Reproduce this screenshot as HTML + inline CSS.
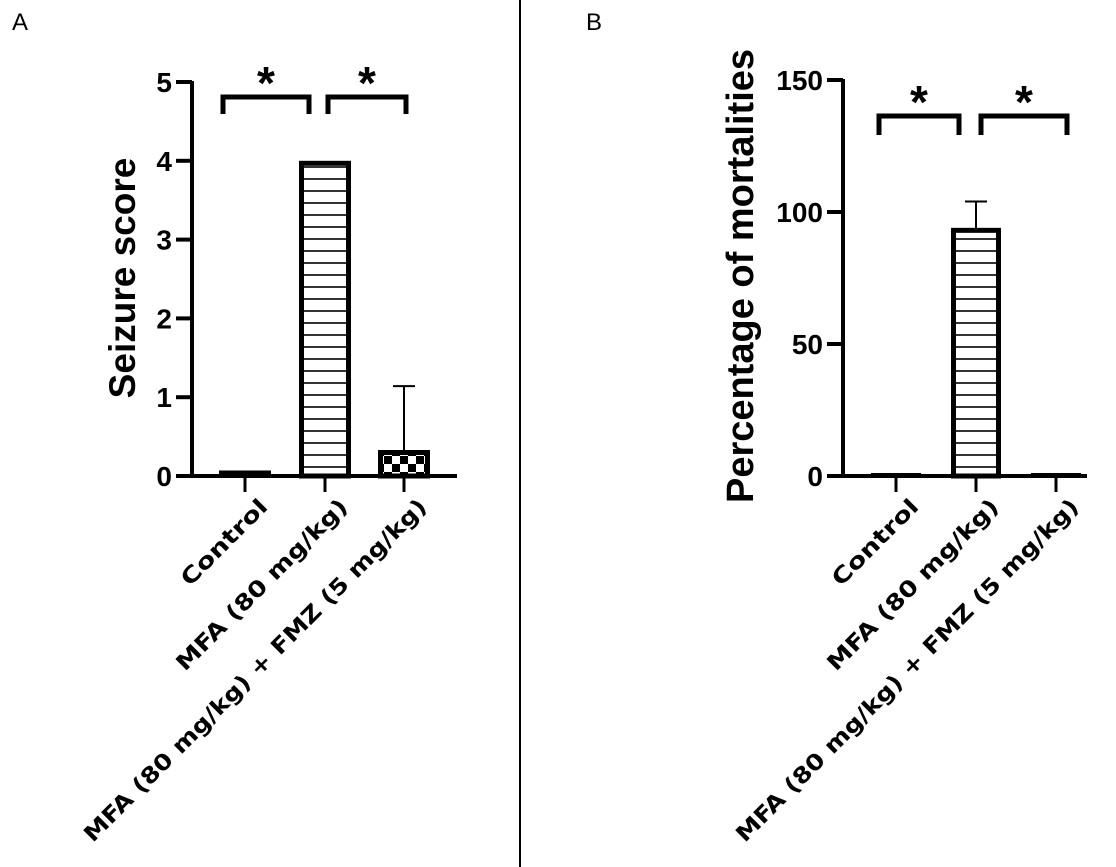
<!DOCTYPE html>
<html><head><meta charset="utf-8"><style>
html,body{margin:0;padding:0;background:#fff;}
svg{display:block;}
text{fill:#000;}
.dv{font-family:"DejaVu Sans","Liberation Sans",sans-serif;}
.lib{font-family:"Liberation Sans",sans-serif;}
</style></head><body>
<svg id="fig" width="1116" height="867" viewBox="0 0 1116 867" xmlns="http://www.w3.org/2000/svg">
<defs>
<pattern id="hatch" width="10" height="12" patternUnits="userSpaceOnUse" y="0">
<rect width="10" height="12" fill="#fff"/><line x1="0" y1="11" x2="10" y2="11" stroke="#000" stroke-width="1.6"/>
</pattern>
<pattern id="checker" width="16" height="16" patternUnits="userSpaceOnUse">
<rect width="16" height="16" fill="#000"/><rect width="8" height="8" fill="#fff"/><rect x="8" y="8" width="8" height="8" fill="#fff"/>
</pattern>
</defs>
<line x1="520" y1="0" x2="520" y2="867" stroke="#000" stroke-width="2"/>
<text class="lib" x="12" y="30" font-size="24">A</text>
<text class="lib" x="586" y="30" font-size="24">B</text>
<g id="pa"></g><g id="pb"></g>
</svg>
<script>
const categories = ["Control", "MFA (80 mg/kg)", "MFA  (80 mg/kg) + FMZ (5 mg/kg)"];
const seizureValues = [0.07, 4, 0.33];
const seizureErrors = [0, 0, 0.81];
const seizureTicks = [0, 1, 2, 3, 4, 5];
const mortalityValues = [0.3, 94, 0.3];
const mortalityErrors = [0, 10, 0];
const mortalityTicks = [0, 50, 100, 150];
const labelLengths = [112, 232, 474];

const NS = "http://www.w3.org/2000/svg";
function mk(parent, tag, attrs, txt){
  const e = document.createElementNS(NS, tag);
  for (const k in attrs) e.setAttribute(k, attrs[k]);
  if (txt !== undefined) e.textContent = txt;
  parent.appendChild(e);
  return e;
}
function panel(g, cfg){
  const y = v => cfg.y0 - (v - cfg.min) / (cfg.max - cfg.min) * (cfg.y0 - cfg.yTop);
  let ax = mk(g, "line", {x1: cfg.axisX, y1: y(cfg.max) - 1, x2: cfg.axisX, y2: cfg.y0 + 2, stroke: "#000", "stroke-width": 4});
  
  
  let bx = mk(g, "line", {x1: cfg.axisX - 15, y1: cfg.y0, x2: cfg.xEnd, y2: cfg.y0, stroke: "#000", "stroke-width": 4});
  
  
  cfg.ticks.forEach(t => {
    const ty = y(t);
    let tl = mk(g, "line", {x1: cfg.axisX - 16, y1: ty, x2: cfg.axisX, y2: ty, stroke: "#000", "stroke-width": 4});
    
    
    let tt = mk(g, "text", {class: "lib", x: cfg.axisX - 20, y: ty + 10, "text-anchor": "end", "font-size": 28, "font-weight": "bold"}, String(t));
    
    
  });
  let yt = mk(g, "text", {class: "lib", x: 0, y: 0, "text-anchor": "middle", "font-size": cfg.titleSize, "font-weight": "bold", transform: `translate(${cfg.titleX},${cfg.titleY}) rotate(-90)`}, cfg.title);
  
  
  cfg.values.forEach((v, i) => {
    const cx = cfg.centers[i];
    const bw = cfg.barW;
    const top = y(v);
    if (cfg.errors[i] > 0) {
      const et = y(v + cfg.errors[i]);
      let el = mk(g, "path", {d: `M${cx},${top} V${et} M${cx - 11},${et} H${cx + 11}`, stroke: "#000", "stroke-width": 2, fill: "none"});
      
      
    }
    const fill = cfg.fills[i];
    const h = Math.max(cfg.y0 - top, 1);
    const sw = h > 8 ? 5 : 0;
    let r = mk(g, "rect", {x: cx - bw / 2 + sw / 2, y: top + sw / 2, width: bw - sw, height: Math.max(h - sw / 2, 1), fill: h > 8 ? fill : "#000", stroke: "#000", "stroke-width": sw || 0});
    if (h <= 8) { r.setAttribute("height", Math.max(h, 3)); r.setAttribute("y", cfg.y0 - Math.max(h, 3)); }
    
    
    let ct = mk(g, "line", {x1: cx, y1: cfg.y0, x2: cx, y2: cfg.y0 + 16, stroke: "#000", "stroke-width": 3});
    
    
    let lab = mk(g, "text", {class: "dv", x: 0, y: 0, "text-anchor": "end", "font-size": 22, "font-weight": "bold", textLength: labelLengths[i], lengthAdjust: "spacingAndGlyphs", transform: `translate(${cx + 24},${cfg.y0 + 32}) rotate(-45)`}, categories[i]);
    
    
  });
  cfg.brackets.forEach(b => {
    let p = mk(g, "path", {d: `M${b[0]},${b[3]} V${b[2]} H${b[1]} V${b[3]}`, stroke: "#000", "stroke-width": 5, fill: "none"});
    
    
    let s = mk(g, "text", {class: "lib", x: (b[0] + b[1]) / 2, y: b[2] + 2, "text-anchor": "middle", "font-size": 46, "font-weight": "bold"}, "*");
    
    
  });
}
panel(document.getElementById("pa"), {
  id: "seizure", min: 0, max: 5, y0: 476, yTop: 82, axisX: 192, xEnd: 457,
  ticks: seizureTicks, values: seizureValues, errors: seizureErrors,
  centers: [245, 325, 404], barW: 52, fills: ["#000", "url(#hatch)", "url(#checker)"],
  title: "Seizure score", titleSize: 37, titleX: 135, titleY: 278,
  brackets: [[223, 309, 97, 114], [328, 406, 97, 114]]
});
panel(document.getElementById("pb"), {
  id: "mortality", min: 0, max: 150, y0: 476, yTop: 80, axisX: 843, xEnd: 1087,
  ticks: mortalityTicks, values: mortalityValues, errors: mortalityErrors,
  centers: [896, 976, 1056], barW: 50, fills: ["#000", "url(#hatch)", "#000"],
  title: "Percentage of mortalities", titleSize: 38, titleX: 753, titleY: 276,
  brackets: [[879, 959, 116, 135], [981, 1067, 116, 135]]
});
</script>
</body></html>
